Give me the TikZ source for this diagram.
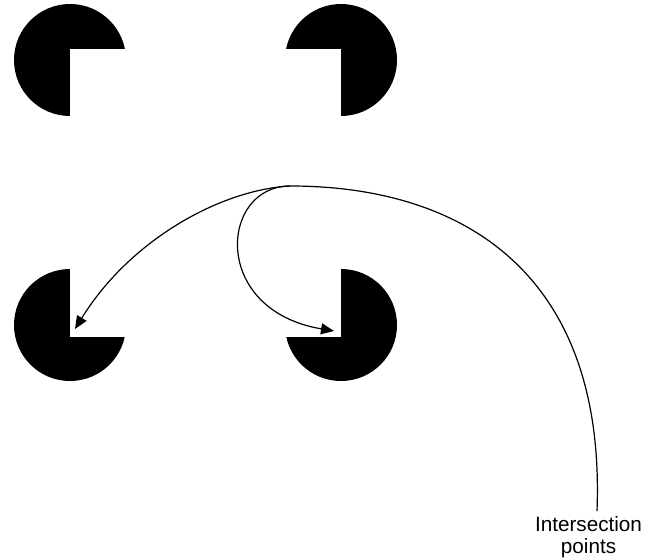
\documentclass[tikz,border=0pt]{standalone}
\usepackage{fontspec}
\setmainfont{Liberation Sans}
\usetikzlibrary{arrows.meta}
\begin{document}
\begin{tikzpicture}[x=1pt,y=-1pt,
  pac/.style={fill=black},
  cutout/.style={fill=white},
  conn/.style={line width=1.2pt, -{Triangle[length=13pt,width=11pt]}},
  lbl/.style={align=center, font=\fontsize{20.7}{22}\selectfont, inner sep=0pt}]
\useasboundingbox (0,0) rectangle (655,559);
% pac-men
\fill[pac] (70,60) circle[radius=56pt];
\fill[cutout] (70,49) rectangle (130,120);
\fill[pac] (341,60) circle[radius=56pt];
\fill[cutout] (341,49) rectangle (280,120);
\fill[pac] (70,325) circle[radius=56pt];
\fill[cutout] (70,337) rectangle (130,265);
\fill[pac] (341,325) circle[radius=56pt];
\fill[cutout] (341,337) rectangle (280,265);
% label
\node[lbl, anchor=north] (lab) at (588.5,516) {Intersection\\points};
\coordinate (s) at (597,511);
\coordinate (top) at (290,186);
\coordinate (t3) at (75,329);
\coordinate (t4) at (334,331);
\draw[conn] (s) .. controls (606,275) and (465,186) .. (top)
  .. controls (220,190) and (130,240) .. (t3);
\draw[conn] (top) .. controls (220,186) and (210,310) .. (t4);
\end{tikzpicture}
\end{document}
